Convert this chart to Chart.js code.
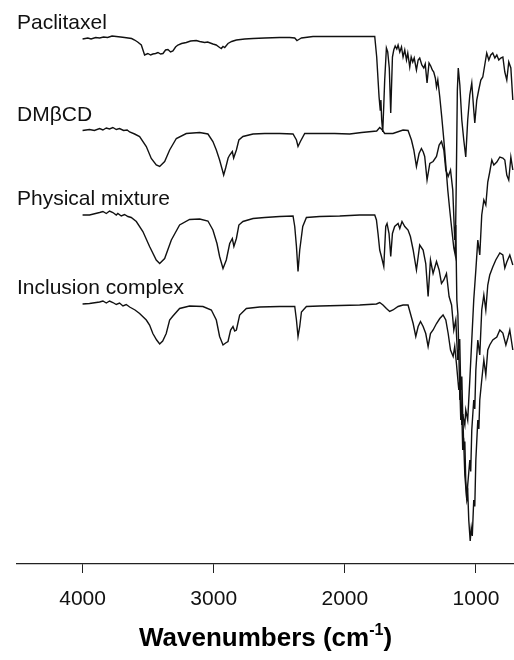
<!DOCTYPE html>
<html>
<head>
<meta charset="utf-8">
<script src="https://cdn.jsdelivr.net/npm/chart.js@4.4.1/dist/chart.umd.min.js"></script>
<style>
  html, body { margin: 0; padding: 0; background: #fff; }
  canvas { display: block; }
</style>
</head>
<body>
<canvas id="ftir" width="514" height="660"></canvas>
<script>
// FTIR spectra, [wavenumber cm-1, transmittance (offset, a.u.)]
const SERIES_NAMES = ['Paclitaxel', 'DM\u03B2CD', 'Physical mixture', 'Inclusion complex']
const TICK_VALUES = [4000, 3000, 2000, 1000]

const paclitaxel = [
  [4000, 105.0], [3960, 105.2], [3935, 105.0], [3900, 105.3], [3870, 105.2], [3840, 105.4],
  [3809, 105.3], [3775, 105.6], [3743, 105.5], [3710, 105.4], [3680, 105.3],
  [3626, 105.1], [3603, 104.8], [3580, 104.4], [3552, 103.8], [3527, 101.8], [3502, 102.1],
  [3481, 101.8], [3464, 102.0], [3443, 102.1], [3425, 102.3], [3405, 102.0], [3387, 102.1],
  [3367, 102.8], [3349, 102.9], [3329, 102.4], [3311, 102.6], [3291, 103.4], [3273, 103.8],
  [3245, 104.1], [3209, 104.3], [3176, 104.6], [3133, 104.7], [3107, 104.5], [3069, 104.3],
  [3046, 104.4], [3006, 104.0], [2981, 103.8], [2955, 103.3], [2942, 103.1], [2929, 103.5],
  [2916, 103.3], [2891, 104.1], [2863, 104.5], [2827, 104.8], [2763, 105.0], [2700, 105.1],
  [2611, 105.2], [2497, 105.3], [2420, 105.3], [2382, 105.2], [2365, 104.7], [2351, 104.9],
  [2331, 105.2], [2243, 105.5], [2116, 105.5], [1963, 105.5], [1849, 105.5], [1772, 105.5],
  [1757, 101.4], [1739, 93.4], [1730, 90.8], [1725, 92.8], [1719, 88.8], [1711, 86.4],
  [1703, 91.8], [1696, 96.8], [1683, 103.2], [1673, 102.4], [1661, 99.2], [1650, 90.2],
  [1637, 101.4], [1627, 102.8], [1616, 103.6], [1604, 103.0], [1594, 103.8], [1581, 102.4],
  [1568, 103.4], [1556, 101.4], [1543, 102.8], [1530, 100.8], [1520, 102.2], [1505, 99.4],
  [1494, 101.4], [1482, 100.4], [1471, 101.2], [1454, 98.8], [1441, 100.8], [1429, 101.2],
  [1413, 99.8], [1398, 99.2], [1387, 100.0], [1373, 96.2], [1358, 100.2], [1345, 99.6],
  [1333, 98.8], [1322, 98.4], [1310, 97.2], [1301, 95.4], [1291, 96.8], [1276, 93.4],
  [1261, 89.4], [1245, 84.8], [1230, 79.8], [1215, 74.8], [1200, 70.8], [1184, 66.8],
  [1169, 63.2], [1158, 61.8], [1150, 76.8], [1142, 94.8], [1135, 99.2], [1123, 95.8],
  [1108, 88.8], [1093, 84.8], [1078, 81.4], [1063, 88.8], [1047, 93.8], [1032, 96.2],
  [1017, 90.8], [1009, 88.2], [994, 92.8], [979, 94.8], [963, 96.8], [948, 97.4],
  [933, 99.8], [918, 102.2], [902, 100.8], [887, 101.8], [872, 102.2], [856, 101.2],
  [841, 101.8], [826, 100.8], [811, 101.2], [795, 101.4], [780, 98.4], [765, 96.8],
  [750, 100.4], [734, 99.2], [719, 92.8],
]

const dmbcd = [
  [4000, 86.7], [3947, 86.9], [3910, 86.7], [3870, 87.1], [3845, 86.8], [3819, 87.2],
  [3794, 87.0], [3769, 87.3], [3743, 86.9], [3718, 87.1], [3687, 86.7], [3660, 86.8],
  [3641, 86.4], [3603, 86.0], [3565, 85.5], [3514, 83.5], [3476, 81.1], [3438, 79.8],
  [3412, 79.5], [3374, 80.5], [3336, 82.8], [3285, 85.1], [3209, 86.1], [3107, 86.3],
  [3044, 86.0], [3006, 84.5], [2980, 82.8], [2955, 80.8], [2934, 78.8], [2924, 77.8],
  [2909, 79.2], [2890, 81.2], [2878, 81.8], [2858, 82.5], [2848, 81.2], [2827, 82.8],
  [2808, 84.8], [2777, 85.5], [2700, 86.0], [2611, 86.1], [2497, 86.1], [2395, 86.0],
  [2369, 84.8], [2357, 83.5], [2339, 84.5], [2306, 86.1], [2192, 86.1], [2078, 86.1],
  [1963, 86.0], [1872, 86.3], [1757, 86.6], [1734, 87.3], [1714, 86.8], [1696, 86.1],
  [1633, 86.1], [1556, 86.8], [1518, 86.7], [1492, 84.8], [1474, 82.8], [1454, 79.5],
  [1434, 82.1], [1416, 83.1], [1402, 82.4], [1391, 81.5], [1373, 76.8], [1352, 80.1],
  [1327, 80.5], [1301, 81.5], [1281, 83.8], [1263, 84.5], [1245, 82.8], [1230, 78.8],
  [1212, 77.5], [1194, 78.8], [1177, 74.8], [1162, 64.8], [1154, 67.8], [1146, 52.8],
  [1138, 50.0], [1131, 42.8], [1124, 45.0], [1116, 34.8], [1108, 37.5], [1101, 29.8],
  [1085, 27.8], [1078, 30.8], [1063, 28.8],
  [1047, 36.8], [1032, 44.8], [1017, 52.8], [1001, 58.8], [986, 64.8], [971, 61.8],
  [956, 69.8], [940, 72.8], [925, 71.8], [910, 76.4], [895, 78.4], [879, 80.8],
  [864, 79.8], [841, 80.4], [818, 81.4], [795, 81.2], [780, 80.8], [765, 77.8],
  [750, 76.8], [734, 81.4], [719, 78.8],
]

const physicalMixture = [
  [4000, 69.8], [3947, 69.8], [3870, 70.3], [3845, 70.5], [3819, 70.1], [3794, 70.6],
  [3769, 70.3], [3743, 69.8], [3731, 70.1], [3705, 69.6], [3680, 69.9], [3654, 69.5],
  [3629, 69.3], [3590, 68.5], [3540, 66.5], [3489, 63.5],
  [3438, 60.8], [3412, 60.1], [3374, 61.1], [3323, 64.8], [3260, 67.8], [3184, 68.9],
  [3107, 69.0], [3044, 68.6], [3006, 66.8], [2975, 64.1], [2955, 61.5], [2929, 59.1],
  [2904, 60.8], [2878, 64.1], [2858, 65.1], [2846, 63.5], [2827, 65.1], [2808, 67.8],
  [2777, 68.5], [2700, 69.1], [2611, 69.3], [2497, 69.5], [2395, 69.6], [2382, 67.5],
  [2369, 63.5], [2357, 58.5], [2344, 62.8], [2321, 67.5], [2293, 69.3], [2192, 69.5],
  [2039, 69.6], [1887, 69.8], [1772, 69.8], [1759, 68.8], [1747, 66.1], [1734, 62.8],
  [1721, 61.5], [1703, 59.5], [1688, 67.5], [1678, 68.1], [1663, 66.1], [1650, 61.5],
  [1637, 66.1], [1620, 67.5], [1594, 68.1], [1581, 67.1], [1564, 68.5], [1543, 67.5],
  [1518, 66.8], [1500, 65.5], [1479, 62.8], [1454, 58.8], [1429, 63.8], [1403, 62.8],
  [1383, 60.1], [1365, 53.5], [1347, 60.8], [1327, 58.1], [1301, 60.5], [1281, 58.8],
  [1263, 56.1], [1245, 56.8], [1225, 58.1], [1205, 53.5], [1186, 51.8], [1169, 46.8],
  [1154, 48.8], [1139, 40.8], [1131, 43.0], [1123, 32.8], [1115, 35.0], [1108, 27.8],
  [1100, 30.0], [1093, 22.8], [1085, 24.5], [1078, 16.8],
  [1070, 12.8], [1063, 15.8], [1047, 20.8], [1040, 18.5], [1032, 26.8], [1017, 32.8],
  [1009, 31.0], [1001, 38.8],
  [986, 44.8], [971, 41.8], [956, 50.8], [940, 53.8], [925, 50.8], [910, 55.8],
  [895, 57.8], [872, 59.4], [849, 60.8], [818, 62.2], [795, 61.8], [780, 59.2],
  [765, 60.4], [742, 61.8], [719, 59.8],
]

const inclusionComplex = [
  [4000, 52.0], [3947, 52.1], [3870, 52.4], [3845, 52.6], [3819, 52.2], [3794, 52.6],
  [3769, 52.3], [3743, 51.9], [3718, 52.2], [3692, 51.6], [3667, 51.9], [3641, 51.4],
  [3600, 50.8], [3565, 50.1], [3514, 48.8], [3489, 47.8], [3464, 46.1],
  [3435, 44.8], [3412, 44.0], [3389, 44.6], [3362, 46.1], [3336, 48.8], [3311, 49.6],
  [3260, 51.1], [3184, 51.6], [3082, 51.5], [3018, 50.8], [2980, 48.8], [2955, 45.5],
  [2929, 43.8], [2909, 44.2], [2891, 44.5], [2871, 46.8], [2853, 47.5], [2840, 46.6],
  [2827, 46.8], [2802, 49.8], [2751, 51.1], [2649, 51.4], [2497, 51.5], [2382, 51.5],
  [2369, 48.8], [2357, 45.5], [2344, 47.5], [2331, 50.4], [2293, 51.5], [2192, 51.6],
  [2039, 51.7], [1887, 51.8], [1759, 52.0], [1734, 52.3], [1709, 51.8], [1683, 51.1],
  [1658, 50.5], [1633, 50.8], [1594, 51.5], [1556, 51.8], [1518, 51.8], [1500, 50.1],
  [1479, 48.1], [1459, 45.5], [1441, 47.5], [1423, 48.5], [1403, 47.5], [1383, 46.1],
  [1365, 43.5], [1347, 46.1], [1327, 46.8], [1301, 48.1], [1276, 49.1], [1251, 49.8],
  [1230, 48.8], [1212, 46.1], [1194, 42.8], [1174, 41.5], [1162, 43.5], [1149, 40.1],
  [1131, 34.8], [1124, 36.5], [1116, 28.8], [1108, 30.5], [1101, 22.8], [1093, 24.0],
  [1085, 17.8], [1070, 12.8], [1062, 14.0], [1055, 8.8],
  [1044, 4.6], [1036, 7.2], [1028, 5.6], [1017, 12.8], [1009, 11.5], [1001, 20.8],
  [986, 28.8], [978, 27.0],
  [971, 32.8], [956, 36.8], [940, 40.8], [925, 37.8], [910, 42.8], [895, 43.8],
  [872, 44.8], [841, 45.4], [818, 46.8], [795, 46.2], [772, 43.8], [757, 45.2],
  [742, 46.8], [719, 42.8],
]

const SPECTRA = [paclitaxel, dmbcd, physicalMixture, inclusionComplex]

const FONT = '"Liberation Sans", Arial, sans-serif'

const toPoints = (rows) => rows.map(([x, y]) => ({ x, y }))

// spectrum names sit just above the start of each trace
const seriesLabels = {
  id: 'seriesLabels',
  afterDatasetsDraw(chart) {
    const { ctx, scales } = chart
    ctx.save()
    ctx.fillStyle = '#111'
    ctx.font = `21px ${FONT}`
    ctx.textBaseline = 'alphabetic'
    SERIES_NAMES.forEach((name, i) => {
      const first = SPECTRA[i][0]
      ctx.fillText(name, 17, scales.y.getPixelForValue(first[1]) - 10)
    })
    ctx.restore()
  },
}

// axis title with a real superscript
const axisTitle = {
  id: 'axisTitle',
  afterDraw(chart) {
    const { ctx, chartArea } = chart
    const main = `bold 26px ${FONT}`
    const sup = `bold 16px ${FONT}`
    ctx.save()
    ctx.fillStyle = '#000'
    ctx.textBaseline = 'alphabetic'
    ctx.font = main
    const a = 'Wavenumbers (cm'
    const c = ')'
    const wa = ctx.measureText(a).width
    const wc = ctx.measureText(c).width
    ctx.font = sup
    const b = '-1'
    const wb = ctx.measureText(b).width
    const total = wa + wb + wc
    let x = (chartArea.left + chartArea.right) / 2 - total / 2
    const y = 646
    ctx.font = main
    ctx.fillText(a, x, y)
    x += wa
    ctx.font = sup
    ctx.fillText(b, x, y - 11)
    x += wb
    ctx.font = main
    ctx.fillText(c, x, y)
    ctx.restore()
  },
}

new Chart(document.getElementById('ftir'), {
  type: 'scatter',
  data: {
    datasets: SPECTRA.map((rows, i) => ({
      label: SERIES_NAMES[i],
      data: toPoints(rows),
      showLine: true,
      borderColor: '#111',
      borderWidth: 1.4,
      pointRadius: 0,
      tension: 0,
      fill: false,
    })),
  },
  options: {
    responsive: false,
    animation: false,
    layout: { padding: { left: 17, right: 0, top: 0, bottom: 0 } },
    plugins: {
      legend: { display: false },
      tooltip: { enabled: false },
    },
    scales: {
      x: {
        type: 'linear',
        reverse: true,
        min: 710,
        max: 4500,
        afterBuildTicks: (scale) => { scale.ticks = TICK_VALUES.map(v => ({ value: v })) },
        afterFit: (scale) => { scale.height = 96 },
        grid: { drawOnChartArea: false, drawTicks: true, tickLength: 9, color: '#222' },
        border: { display: true, color: '#222', width: 1.2 },
        ticks: {
          color: '#111',
          font: { family: FONT, size: 21 },
          padding: 14,
          maxRotation: 0,
          callback: (v) => String(v),
        },
        title: { display: false },
      },
      y: {
        display: false,
        min: 0,
        max: 112.8,
      },
    },
  },
  plugins: [seriesLabels, axisTitle],
})
</script>
</body>
</html>
